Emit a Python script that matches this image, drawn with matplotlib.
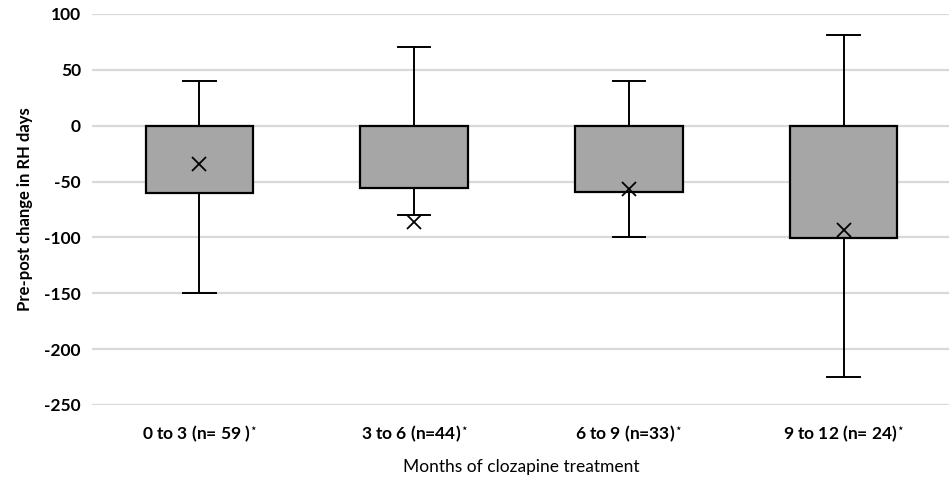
import matplotlib.pyplot as plt

# values (box drawn from q1 up to 0)
groups = ["0 to 3 (n= 59 )", "3 to 6 (n=44)", "6 to 9 (n=33)", "9 to 12 (n= 24)"]
whisker_low = [-150, -80, -100, -225]
box_low = [-60, -56, -59, -101]
box_high = [0, 0, 0, 0]
whisker_high = [40, 70, 40, 81]
means = [-34, -86, -57, -93]

plt.rcParams['font.family'] = ['Lato', 'DejaVu Sans']
plt.rcParams['axes.unicode_minus'] = False

fig = plt.figure(figsize=(9.49, 4.79), dpi=100)
ax = fig.add_axes([0.097, 0.1545, 0.905, 0.8165])

stats = []
for i in range(len(groups)):
    stats.append({
        'whislo': whisker_low[i], 'q1': box_low[i], 'med': box_high[i],
        'q3': box_high[i], 'whishi': whisker_high[i], 'mean': means[i],
        'fliers': [], 'label': groups[i] + r'$^{\star}$',
    })

pos = list(range(len(groups)))
ax.bxp(stats, positions=pos, widths=0.5, capwidths=0.15, patch_artist=True,
       showmeans=True, showfliers=False,
       boxprops=dict(facecolor='#a6a6a6', edgecolor='black', linewidth=1.6),
       whiskerprops=dict(color='black', linewidth=1.4),
       capprops=dict(color='black', linewidth=1.4),
       medianprops=dict(color='black', linewidth=1.4),
       meanprops=dict(marker='x', markeredgecolor='black', markersize=10,
                      markeredgewidth=1.3))

ax.set_xlim(-0.5, 3.5)
ax.set_ylim(-250, 100)
ax.set_yticks(range(-250, 101, 50))
ax.yaxis.grid(True, color='#d9d9d9', linewidth=1.6)
ax.set_axisbelow(True)
for s in ax.spines.values():
    s.set_visible(False)
ax.tick_params(axis='y', length=0, labelsize=12.5, pad=8)
ax.tick_params(axis='x', length=0, labelsize=12.5, pad=13)
for lab in ax.get_xticklabels() + ax.get_yticklabels():
    lab.set_fontweight('bold')

ax.set_ylabel("Pre-post change in RH days", fontsize=12, fontweight='bold', labelpad=8)
ax.set_xlabel("Months of clozapine treatment", fontsize=12.5, labelpad=11)

fig.savefig("out.png", dpi=100)
